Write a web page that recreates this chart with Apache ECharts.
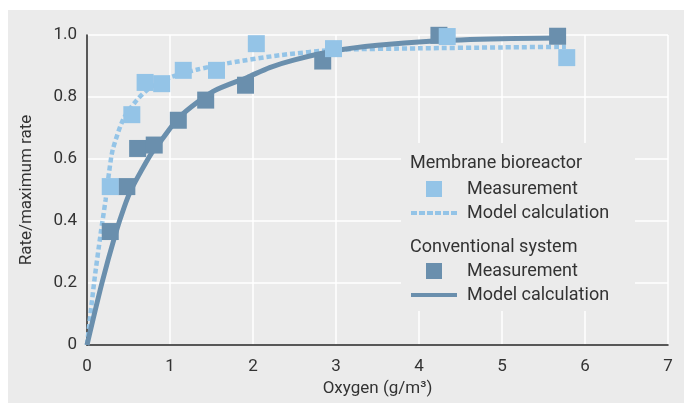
<!DOCTYPE html>
<html>
<head>
<meta charset="utf-8">
<script src="https://cdn.jsdelivr.net/npm/echarts@6/dist/echarts.min.js"></script>
<style>
html,body{margin:0;padding:0;background:#fff;}
#bg{position:absolute;left:8px;top:10px;width:676px;height:393px;background:#ebebeb;}
#main{position:absolute;left:0;top:0;width:684px;height:403px;}
</style>
</head>
<body>
<div id="bg"></div>
<div id="main"></div>
<script>
// Tick labels
const xTicks = ['0','1','2','3','4','5','6','7'];
const yTicks = ['0','0.2','0.4','0.6','0.8','1.0'];

// Membrane bioreactor measurements [oxygen, rate]
const mbrMeasX = [0.28, 0.54, 0.70, 0.90, 1.16, 1.56, 2.04, 2.97, 4.34, 5.78];
const mbrMeasY = [0.511, 0.743, 0.847, 0.843, 0.886, 0.886, 0.972, 0.956, 0.995, 0.927];
// Membrane bioreactor model curve
const mbrModelX = [0, 0.085, 0.165, 0.225, 0.265, 0.31, 0.44, 0.60, 0.76, 1.0, 1.32, 1.72, 2.33, 3.0, 4.0, 5.0, 5.77];
const mbrModelY = [0, 0.20, 0.36, 0.47, 0.555, 0.63, 0.73, 0.79, 0.83, 0.863, 0.888, 0.91, 0.935, 0.952, 0.957, 0.96, 0.962];

// Conventional system measurements
const convMeasX = [0.28, 0.48, 0.61, 0.81, 1.10, 1.43, 1.91, 2.84, 4.24, 5.67];
const convMeasY = [0.366, 0.511, 0.634, 0.645, 0.725, 0.79, 0.838, 0.916, 0.999, 0.996];
// Conventional system model curve
const convModelX = [0, 0.18, 0.345, 0.45, 0.53, 0.66, 0.78, 0.88, 1.12, 1.52, 1.93, 2.2, 2.5, 3.0, 3.5, 4.13, 5.0, 5.67];
const convModelY = [0, 0.20, 0.36, 0.446, 0.50, 0.565, 0.62, 0.655, 0.737, 0.818, 0.863, 0.895, 0.92, 0.95, 0.967, 0.98, 0.988, 0.99];

const light = '#94c4e7';
const dark = '#6a8fad';
const zip = (a, b) => a.map((v, i) => [v, b[i]]);

const chart = echarts.init(document.getElementById('main'));
const font = 'Roboto, "Liberation Sans", sans-serif';
const squareIcon = 'path://M0,0H10V10H0Z';
const solidIcon = 'path://M0,0H46V4H0Z';
const dashIcon = 'path://M0,0H6V4H0Z M8,0H14V4H8Z M16,0H22V4H16Z M24,0H30V4H24Z M32,0H38V4H32Z M40,0H46V4H40Z';
chart.setOption({
  backgroundColor: 'transparent',
  animation: false,
  grid: {left: 87, right: 16, top: 35, bottom: 58, containLabel: false},
  xAxis: {
    type: 'value', min: 0, max: 7, interval: 1,
    name: 'Oxygen (g/m³)', nameLocation: 'middle', nameGap: 34,
    nameTextStyle: {color: '#333', fontSize: 17, fontFamily: font},
    axisLine: {show: true, lineStyle: {color: '#222', width: 1.5}},
    axisTick: {show: false},
    axisLabel: {color: '#333', fontSize: 17, fontFamily: font, margin: 13,
      formatter: v => xTicks[Math.round(v)]},
    splitLine: {show: true, lineStyle: {color: '#fff', width: 1.5}}
  },
  yAxis: {
    type: 'value', min: 0, max: 1, interval: 0.2,
    name: 'Rate/maximum rate', nameLocation: 'middle', nameGap: 52, nameRotate: 90,
    nameTextStyle: {color: '#333', fontSize: 17, fontFamily: font},
    axisLine: {show: true, lineStyle: {color: '#222', width: 1.5}},
    axisTick: {show: false},
    axisLabel: {color: '#333', fontSize: 17, fontFamily: font, margin: 10,
      formatter: v => yTicks[Math.round(v / 0.2)]},
    splitLine: {show: true, lineStyle: {color: '#fff', width: 1.5}}
  },
  graphic: [
    {type: 'rect', z: 1, shape: {x: 401, y: 143, width: 234, height: 168}, style: {fill: '#ebebeb'}},
    {type: 'text', z: 10, x: 410, y: 163, style: {text: 'Membrane bioreactor', fill: '#333', font: '18px ' + font, textVerticalAlign: 'middle'}},
    {type: 'text', z: 10, x: 410, y: 247, style: {text: 'Conventional system', fill: '#333', font: '18px ' + font, textVerticalAlign: 'middle'}}
  ],
  legend: [
    {
      left: 411, top: 180, orient: 'vertical', padding: 0, itemGap: 6,
      itemWidth: 46, itemHeight: 16,
      data: [{name: 'MBR Measurement', icon: squareIcon}, {name: 'MBR Model calculation', icon: dashIcon}],
      formatter: n => n.replace(/^MBR /, ''),
      textStyle: {color: '#333', fontSize: 18, fontFamily: font, padding: [0, 0, 0, 5]}
    },
    {
      left: 411, top: 262, orient: 'vertical', padding: 0, itemGap: 6,
      itemWidth: 46, itemHeight: 16,
      data: [{name: 'Conv Measurement', icon: squareIcon}, {name: 'Conv Model calculation', icon: solidIcon}],
      formatter: n => n.replace(/^Conv /, ''),
      textStyle: {color: '#333', fontSize: 18, fontFamily: font, padding: [0, 0, 0, 5]}
    }
  ],
  series: [
    {
      name: 'MBR Model calculation', type: 'line', data: zip(mbrModelX, mbrModelY),
      smooth: 0.25, symbol: 'none', z: 3,
      lineStyle: {color: light, width: 4.5, type: [5, 3]}, itemStyle: {color: light}
    },
    {
      name: 'Conv Model calculation', type: 'line', data: zip(convModelX, convModelY),
      smooth: 0.25, symbol: 'none', z: 3,
      lineStyle: {color: dark, width: 5}, itemStyle: {color: dark}
    },
    {
      name: 'Conv Measurement', type: 'scatter', data: zip(convMeasX, convMeasY),
      symbol: 'rect', symbolSize: 17, z: 4, itemStyle: {color: dark, opacity: 1}
    },
    {
      name: 'MBR Measurement', type: 'scatter', data: zip(mbrMeasX, mbrMeasY),
      symbol: 'rect', symbolSize: 17, z: 5, itemStyle: {color: light, opacity: 1}
    }
  ]
});
</script>
</body>
</html>
